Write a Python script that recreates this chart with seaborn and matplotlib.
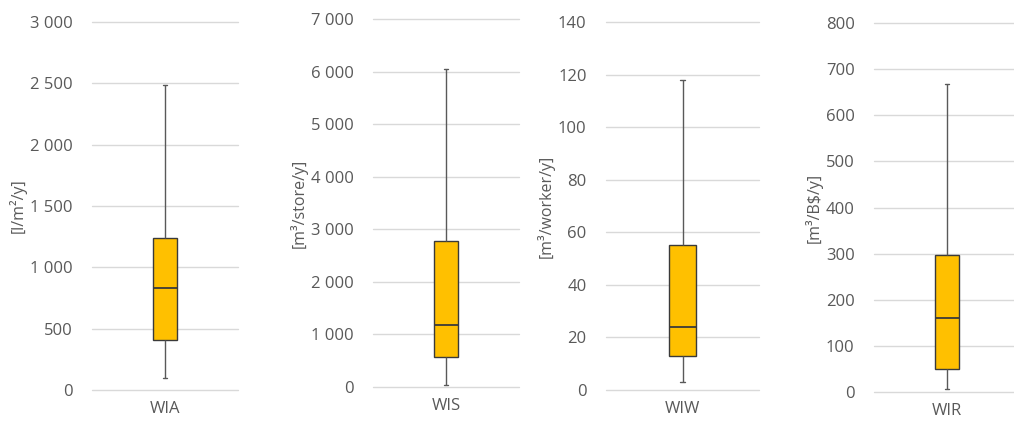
import matplotlib
matplotlib.use("Agg")
import matplotlib.pyplot as plt
import seaborn as sns
import pandas as pd
import numpy as np
from matplotlib.ticker import FuncFormatter, MultipleLocator

# Five-number summaries: min, Q1, median, Q3, max
categories = ["WIA", "WIS", "WIW", "WIR"]
units = ["[l/m²/y]", "[m³/store/y]", "[m³/worker/y]", "[m³/B$/y]"]
wia = [100, 410, 830, 1240, 2490]
wis = [30, 570, 1180, 2770, 6050]
wiw = [3, 13, 24, 55, 118]
wir = [7, 50, 160, 298, 668]
series = [wia, wis, wiw, wir]
y_max = [3000, 7000, 140, 800]
y_step = [500, 1000, 20, 100]

sns.set_theme(style="white")
plt.rcParams['font.family'] = ['Open Sans', 'DejaVu Sans']

W, H = 1014, 424
fig = plt.figure(figsize=(W / 100, H / 100), dpi=100)

# panel extents in pixels: left, right, top, bottom
boxes_px = [(92, 238, 22, 390), (373, 519, 19, 387), (606, 759, 22, 390), (874, 1020, 23, 392)]

gray = "#595959"
fmt = FuncFormatter(lambda v, p: f"{int(v):,}".replace(",", " "))

for cat, unit, vals, ym, st, (l, r, t, b) in zip(categories, units, series, y_max, y_step, boxes_px):
    ax = fig.add_axes([l / W, 1 - b / H, (r - l) / W, (b - t) / H])
    df = pd.DataFrame({"cat": [cat] * len(vals), "val": vals})
    sns.boxplot(data=df, x="cat", y="val", ax=ax, whis=(0, 100), width=0.17,
                color="#FFC000", linewidth=1.0, linecolor="#3a3a3a",
                boxprops=dict(facecolor="#FFC000", edgecolor="#3a3a3a"),
                medianprops=dict(color="#3a3a3a", linewidth=1.3),
                whiskerprops=dict(color=gray, linewidth=1.0),
                capprops=dict(color=gray, linewidth=1.0),
                capwidths=0.03, showfliers=False)
    ax.set_ylim(0, ym)
    ax.set_xlim(-0.5, 0.5)
    ax.yaxis.set_major_locator(MultipleLocator(st))
    ax.yaxis.set_major_formatter(fmt)
    ax.grid(axis="y", color="#d9d9d9", linewidth=1.0)
    for gl in ax.get_ygridlines():
        gl.set_clip_on(False)
    ax.set_axisbelow(True)
    for s in ax.spines.values():
        s.set_visible(False)
    ax.tick_params(axis="both", length=0, labelsize=12, labelcolor=gray, pad=14)
    ax.tick_params(axis="x", pad=8)
    ax.set_xlabel("")
    ax.set_ylabel(unit, fontsize=11.5, color=gray, labelpad=2)

fig.savefig("out.png", dpi=100)
